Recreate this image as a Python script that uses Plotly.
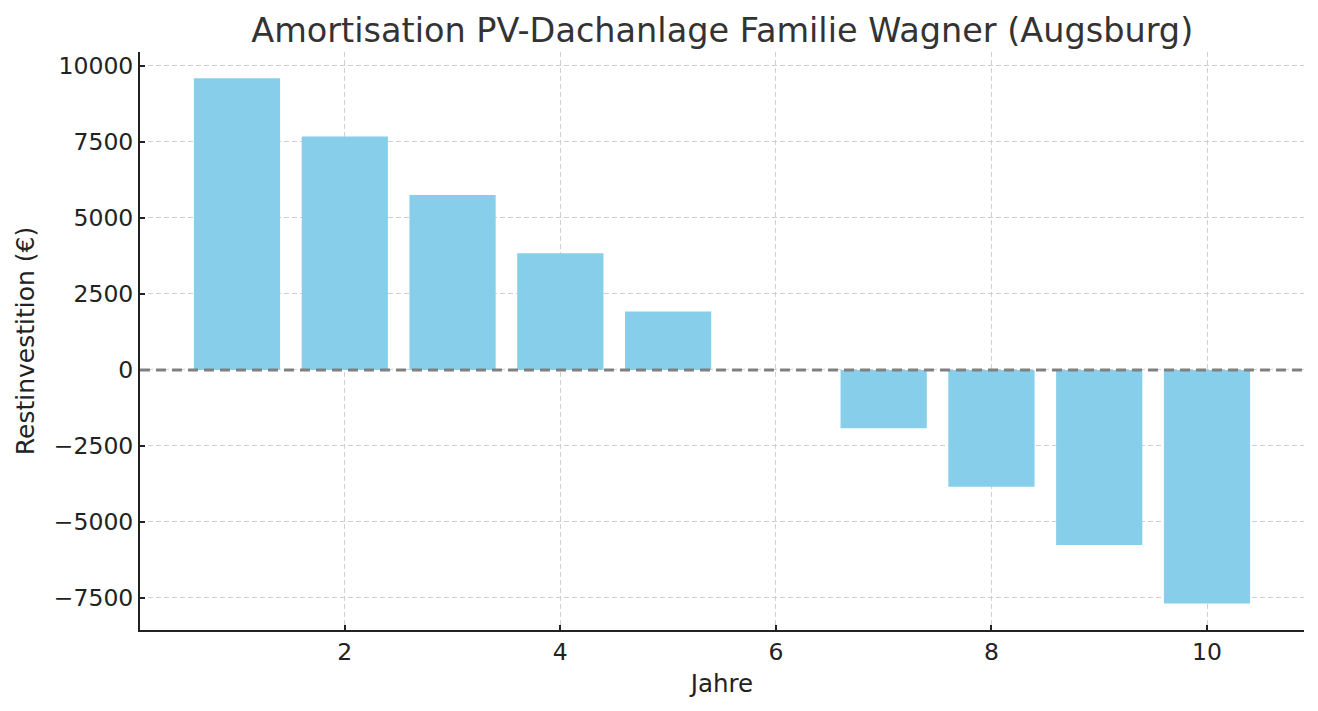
import plotly.graph_objects as go

years = [1, 2, 3, 4, 5, 6, 7, 8, 9, 10]
rest = [9600, 7680, 5760, 3840, 1920, 0, -1920, -3840, -5760, -7680]
x_ticks = [2, 4, 6, 8, 10]
y_ticks = [-7500, -5000, -2500, 0, 2500, 5000, 7500, 10000]
y_ticklabels = ["\u22127500", "\u22125000", "\u22122500", "0", "2500", "5000", "7500", "10000"]

FONT = "DejaVu Sans"

fig = go.Figure()
fig.add_trace(go.Bar(
    x=years, y=rest, width=0.8,
    marker=dict(color="#87CEEB", line=dict(width=0)),
))

fig.add_shape(type="line", xref="paper", yref="y", x0=0, x1=1, y0=0, y1=0,
              line=dict(color="#808080", width=3, dash="10px,6px"), layer="above")

fig.update_layout(
    width=1318, height=711,
    margin=dict(l=140, r=14, t=52, b=81),
    paper_bgcolor="white", plot_bgcolor="white",
    showlegend=False,
    font=dict(family=FONT, color="#222222", size=23),
    title=dict(text="Amortisation PV-Dachanlage Familie Wagner (Augsburg)",
               font=dict(family=FONT, size=33.5, color="#333333"),
               x=0.548, xanchor="center", y=0.958, yanchor="middle"),
    bargap=0.2,
)

fig.update_xaxes(
    range=[0.1, 10.9], tickvals=x_ticks, ticktext=[str(v) for v in x_ticks],
    showline=True, linecolor="#222222", linewidth=2, mirror=False,
    ticks="inside", ticklen=5, tickwidth=1.5, tickcolor="#222222",
    showgrid=True, gridcolor="#cfcfcf", griddash="5px,3px", gridwidth=1,
    zeroline=False,
    title=dict(text="Jahre", font=dict(size=24.5, color="#222222"), standoff=10),
    tickfont=dict(size=23.5),
)
fig.update_yaxes(
    range=[-8553, 10460], tickvals=y_ticks, ticktext=y_ticklabels,
    showline=True, linecolor="#222222", linewidth=2, mirror=False,
    ticks="inside", ticklen=5, tickwidth=1.5, tickcolor="#222222",
    showgrid=True, gridcolor="#cfcfcf", griddash="5px,3px", gridwidth=1,
    zeroline=False,
    title=dict(text="Restinvestition (\u20ac)", font=dict(size=25, color="#222222"), standoff=12),
    tickfont=dict(size=23.5),
)

fig.write_html("out.html")
